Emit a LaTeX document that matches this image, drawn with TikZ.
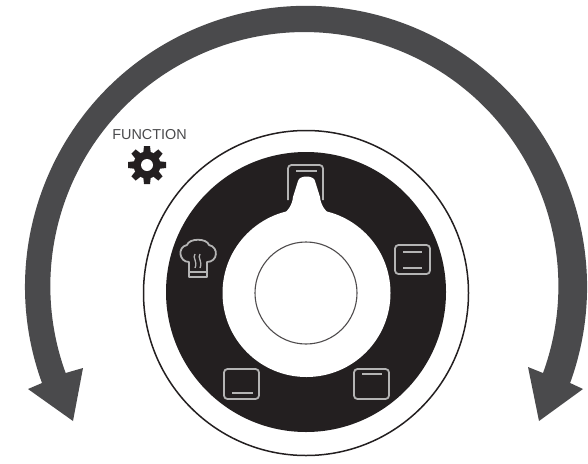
\documentclass[tikz,border=0pt]{standalone}
\usepackage{fontspec}
\setmainfont{Liberation Sans}
\definecolor{arrowgray}{HTML}{4A4A4C}
\definecolor{dialblack}{HTML}{231F20}
\definecolor{icongray}{HTML}{B4B4B4}
\tikzset{
  ovenicon/.style={draw=icongray, line width=1.8pt, rounded corners=3.5pt},
  iconbar/.style={draw=icongray, line width=1.8pt},
  ringline/.style={draw=dialblack, line width=1.5pt},
}

\begin{document}
\begin{tikzpicture}[x=1pt, y=-1pt]
  \useasboundingbox (0,0) rectangle (588,463);
  % Turning arrow
  \fill[arrowgray] (42,383)
        arc[start angle=160, end angle=380, radius=281]
        -- (583,389) -- (539,421) -- (528,367) -- (543,373)
        arc[start angle=380, end angle=160, radius=254]
        -- (83,368) -- (73,421) -- (28,389) -- cycle;
  % Dial
  \draw[ringline, fill=white] (306,293) circle (162.5);
  \fill[dialblack] (306,292) circle (140);
  % Top icon, under the pointer
  \draw[ovenicon] (288,200) -- (288,165) -- (323,165) -- (323,200);
  \draw[iconbar] (296,171) -- (317,171);
  % Knob and pointer
  \fill[white] (306.5,293) circle (84);
  \fill[white] (282,216) .. controls (290,208) and (292,205) .. (293,197)
        -- (298,181) .. controls (299,175) and (314,175) .. (315,181)
        -- (320,197) .. controls (321,205) and (323,208) .. (331,216) -- cycle;
  \draw[draw=dialblack!80, line width=1.1pt] (306,293) circle (51);
  % Oven icons
  \draw[ovenicon] (395,245) rectangle (430,274);
  \draw[iconbar] (403,252) -- (422,252);
  \draw[iconbar] (403,268) -- (422,268);
  \draw[ovenicon] (354,369) rectangle (389,399);
  \draw[iconbar] (362,374) -- (382,374);
  \draw[ovenicon] (224,369) rectangle (259,399);
  \draw[iconbar] (232,393) -- (253,393);
  % Chef hat
  \draw[iconbar, line join=round] (189,262) .. controls (179,262) and (177,247) .. (187,245)
        .. controls (189,238) and (207,238) .. (209,245)
        .. controls (219,247) and (218,262) .. (207,262)
        -- (207,277) -- (189,277) -- cycle;
  \draw[iconbar] (189,272) -- (207,272);
  \draw[icongray, line width=1.3pt] (195,254) .. controls (192,258) and (198,261) .. (195,268);
  \draw[icongray, line width=1.3pt] (200,254) .. controls (197,258) and (203,261) .. (200,268);
  % Function label
  \node[text=arrowgray, font=\fontsize{14.4}{16}\selectfont, inner sep=0pt] (functionlabel)
        at (149.5,135) {FUNCTION};
  \fill[dialblack] (147,165) circle (13.5);
  \foreach \a in {0,45,...,315}
    \fill[dialblack, shift={(147,165)}, rotate=\a] (-4,-10) -- (-3,-19) -- (3,-19) -- (4,-10) -- cycle;
  \fill[white] (147,165) circle (6);
\end{tikzpicture}
\end{document}
